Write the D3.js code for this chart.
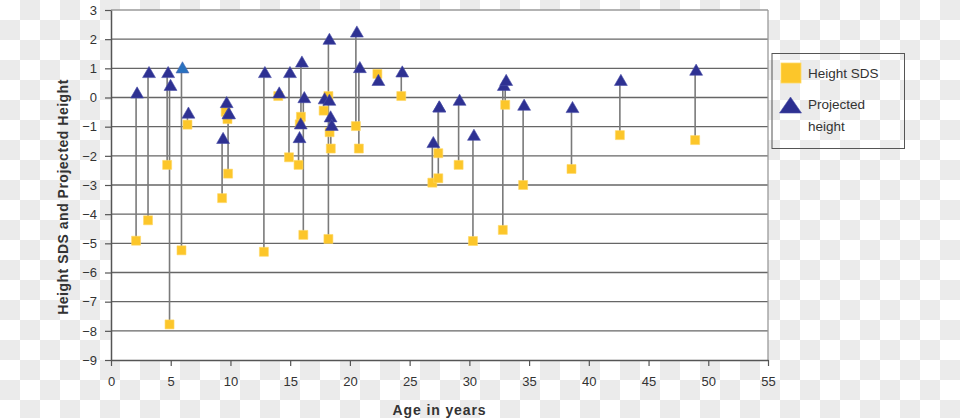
<!DOCTYPE html>
<html><head><meta charset="utf-8">
<script src="https://cdn.jsdelivr.net/npm/d3@7"></script>
<style>
html,body{margin:0;padding:0;background:#fff;}
svg{display:block;font-family:"Liberation Sans",Arial,sans-serif;}
</style></head>
<body>
<svg id="chart" width="960" height="418"></svg>
<script>
// ---- data ----
const ages       = [2.1, 3.1, 4.7, 4.9, 5.9, 6.4, 9.3, 9.6, 9.75, 9.8, 12.8, 14.0, 14.9, 15.7, 15.9, 15.8, 16.1, 18.2, 17.8, 18.2, 18.3, 18.4, 20.5, 20.75, 22.3, 24.3, 26.9, 27.4, 27.4, 29.1, 30.3, 32.8, 33.0, 34.5, 38.55, 42.6, 48.9];
const heightSDS  = [-4.91, -4.21, -2.31, -7.78, -5.24, -0.93, -3.45, -0.49, -0.74, -2.61, -5.29, 0.05, -2.05, -2.31, -0.66, -0.92, -4.71, -4.85, -0.45, 0.05, -1.19, -1.75, -0.98, -1.75, 0.81, 0.05, -2.92, -2.77, -1.91, -2.31, -4.92, -4.54, -0.25, -3.0, -2.45, -1.29, -1.46];
const projected  = [0.11, 0.81, 0.81, 0.37, 0.97, -0.58, -1.45, -0.22, -0.6, -0.6, 0.81, 0.11, 0.81, -1.42, 1.17, -0.95, -0.05, 1.95, -0.09, -0.14, -0.71, -1.0, 2.2, 0.98, 0.54, 0.83, -1.59, -0.37, -0.37, -0.14, -1.34, 0.37, 0.54, -0.31, -0.39, 0.54, 0.89];
const highlighted = [4];
const xTickValues = [0, 5, 10, 15, 20, 25, 30, 35, 40, 45, 50, 55];
const yTickValues = [3, 2, 1, 0, -1, -2, -3, -4, -5, -6, -7, -8, -9];
const legendLabels = [["Height SDS"], ["Projected", "height"]];
const xTitle = "Age in years";
const yTitle = "Height SDS and Projected Height";

// ---- layout ----
const W = 960, H = 418;
const L = 111, R = 768, T = 10, B = 360;
const svg = d3.select("#chart");

// checkerboard background
const defs = svg.append("defs");
const pat = defs.append("pattern").attr("id","chk").attr("width",40).attr("height",40).attr("patternUnits","userSpaceOnUse");
pat.append("rect").attr("width",40).attr("height",40).attr("fill","#ffffff");
pat.append("rect").attr("x",20).attr("y",0).attr("width",20).attr("height",20).attr("fill","#ebebeb");
pat.append("rect").attr("x",0).attr("y",20).attr("width",20).attr("height",20).attr("fill","#ebebeb");
svg.append("rect").attr("width",W).attr("height",H).attr("fill","url(#chk)");

const x = d3.scaleLinear().domain([0,55]).range([L,R]);
const y = d3.scaleLinear().domain([-9,3]).range([B,T]);

// plot area
svg.append("rect").attr("x",L).attr("y",T).attr("width",R-L).attr("height",B-T).attr("fill","#fff");

// gridlines
svg.append("g").selectAll("line").data(yTickValues.filter(v=>v>-9 && v<3)).join("line")
  .attr("x1",L).attr("x2",R).attr("y1",d=>y(d)).attr("y2",d=>y(d))
  .attr("stroke","#666").attr("stroke-width",1.4);
// top/right border
svg.append("line").attr("x1",L).attr("x2",R).attr("y1",T).attr("y2",T).attr("stroke","#9a9a9a").attr("stroke-width",1.3);
svg.append("line").attr("x1",R).attr("x2",R).attr("y1",T).attr("y2",B).attr("stroke","#9a9a9a").attr("stroke-width",1.3);

// axes
const xAxis = d3.axisBottom(x).tickValues(xTickValues).tickSize(6).tickSizeOuter(0).tickPadding(11);
const gx = svg.append("g").attr("transform",`translate(0,${B})`).call(xAxis);
const yAxis = d3.axisLeft(y).tickValues(yTickValues).tickSize(6).tickSizeOuter(0).tickPadding(8);
const gy = svg.append("g").attr("transform",`translate(${L},0)`).call(yAxis);
[gx,gy].forEach(g=>{
  g.select(".domain").attr("stroke","#555").attr("stroke-width",1.5);
  g.selectAll(".tick line").attr("stroke","#555").attr("stroke-width",1.2);
  g.selectAll(".tick text").attr("fill","#333").attr("font-size",13).attr("font-family","Liberation Sans, Arial, sans-serif");
});

// data
const idx = d3.range(ages.length);
svg.append("g").selectAll("line").data(idx).join("line")
  .attr("x1",i=>x(ages[i])).attr("x2",i=>x(ages[i]))
  .attr("y1",i=>y(heightSDS[i])).attr("y2",i=>y(projected[i]))
  .attr("stroke","#7a7a7a").attr("stroke-width",1.6);

svg.append("g").selectAll("path").data(idx).join("path")
  .attr("d",d3.symbol(d3.symbolSquare,81))
  .attr("transform",i=>`translate(${x(ages[i])},${y(heightSDS[i])})`)
  .attr("fill","#fcc62a").attr("stroke","#ffd966").attr("stroke-width",0.6);

svg.append("g").selectAll("path").data(idx).join("path")
  .attr("d",d3.symbol(d3.symbolTriangle,72))
  .attr("transform",i=>`translate(${x(ages[i])+1},${y(projected[i])})`)
  .attr("fill",i=>highlighted.includes(i)?"#2a72bf":"#2e3192")
  .attr("stroke",i=>highlighted.includes(i)?"#4a64b0":"#4a4fa8").attr("stroke-width",0.6);

// legend
const lg = svg.append("g");
lg.append("rect").attr("x",772).attr("y",53.5).attr("width",132.5).attr("height",95).attr("fill","none").attr("stroke","#555").attr("stroke-width",1);
lg.append("rect").attr("x",781).attr("y",63).attr("width",20).attr("height",20).attr("fill","#fcc62a").attr("stroke","#ffd966").attr("stroke-width",0.8);
lg.append("path").attr("d","M790.5,97 L801.5,113 L779.5,113 Z").attr("fill","#2e3192").attr("stroke","#4a4fa8").attr("stroke-width",0.6);
lg.append("text").attr("x",808).attr("y",78).attr("font-size",13.5).attr("fill","#333").text(legendLabels[0][0]);
lg.append("text").attr("x",808).attr("y",109).attr("font-size",13.5).attr("fill","#333").text(legendLabels[1][0]);
lg.append("text").attr("x",808).attr("y",131).attr("font-size",13.5).attr("fill","#333").text(legendLabels[1][1]);

// titles
svg.append("text").attr("x",(L+R)/2).attr("y",415).attr("text-anchor","middle")
  .attr("font-size",14).attr("letter-spacing",0.9).attr("font-weight","bold").attr("fill","#333").text(xTitle);
svg.append("text").attr("transform",`translate(68,${(T+B)/2+12}) rotate(-90)`).attr("text-anchor","middle")
  .attr("font-size",14).attr("letter-spacing",0.5).attr("font-weight","bold").attr("fill","#333").text(yTitle);
</script>
</body></html>
